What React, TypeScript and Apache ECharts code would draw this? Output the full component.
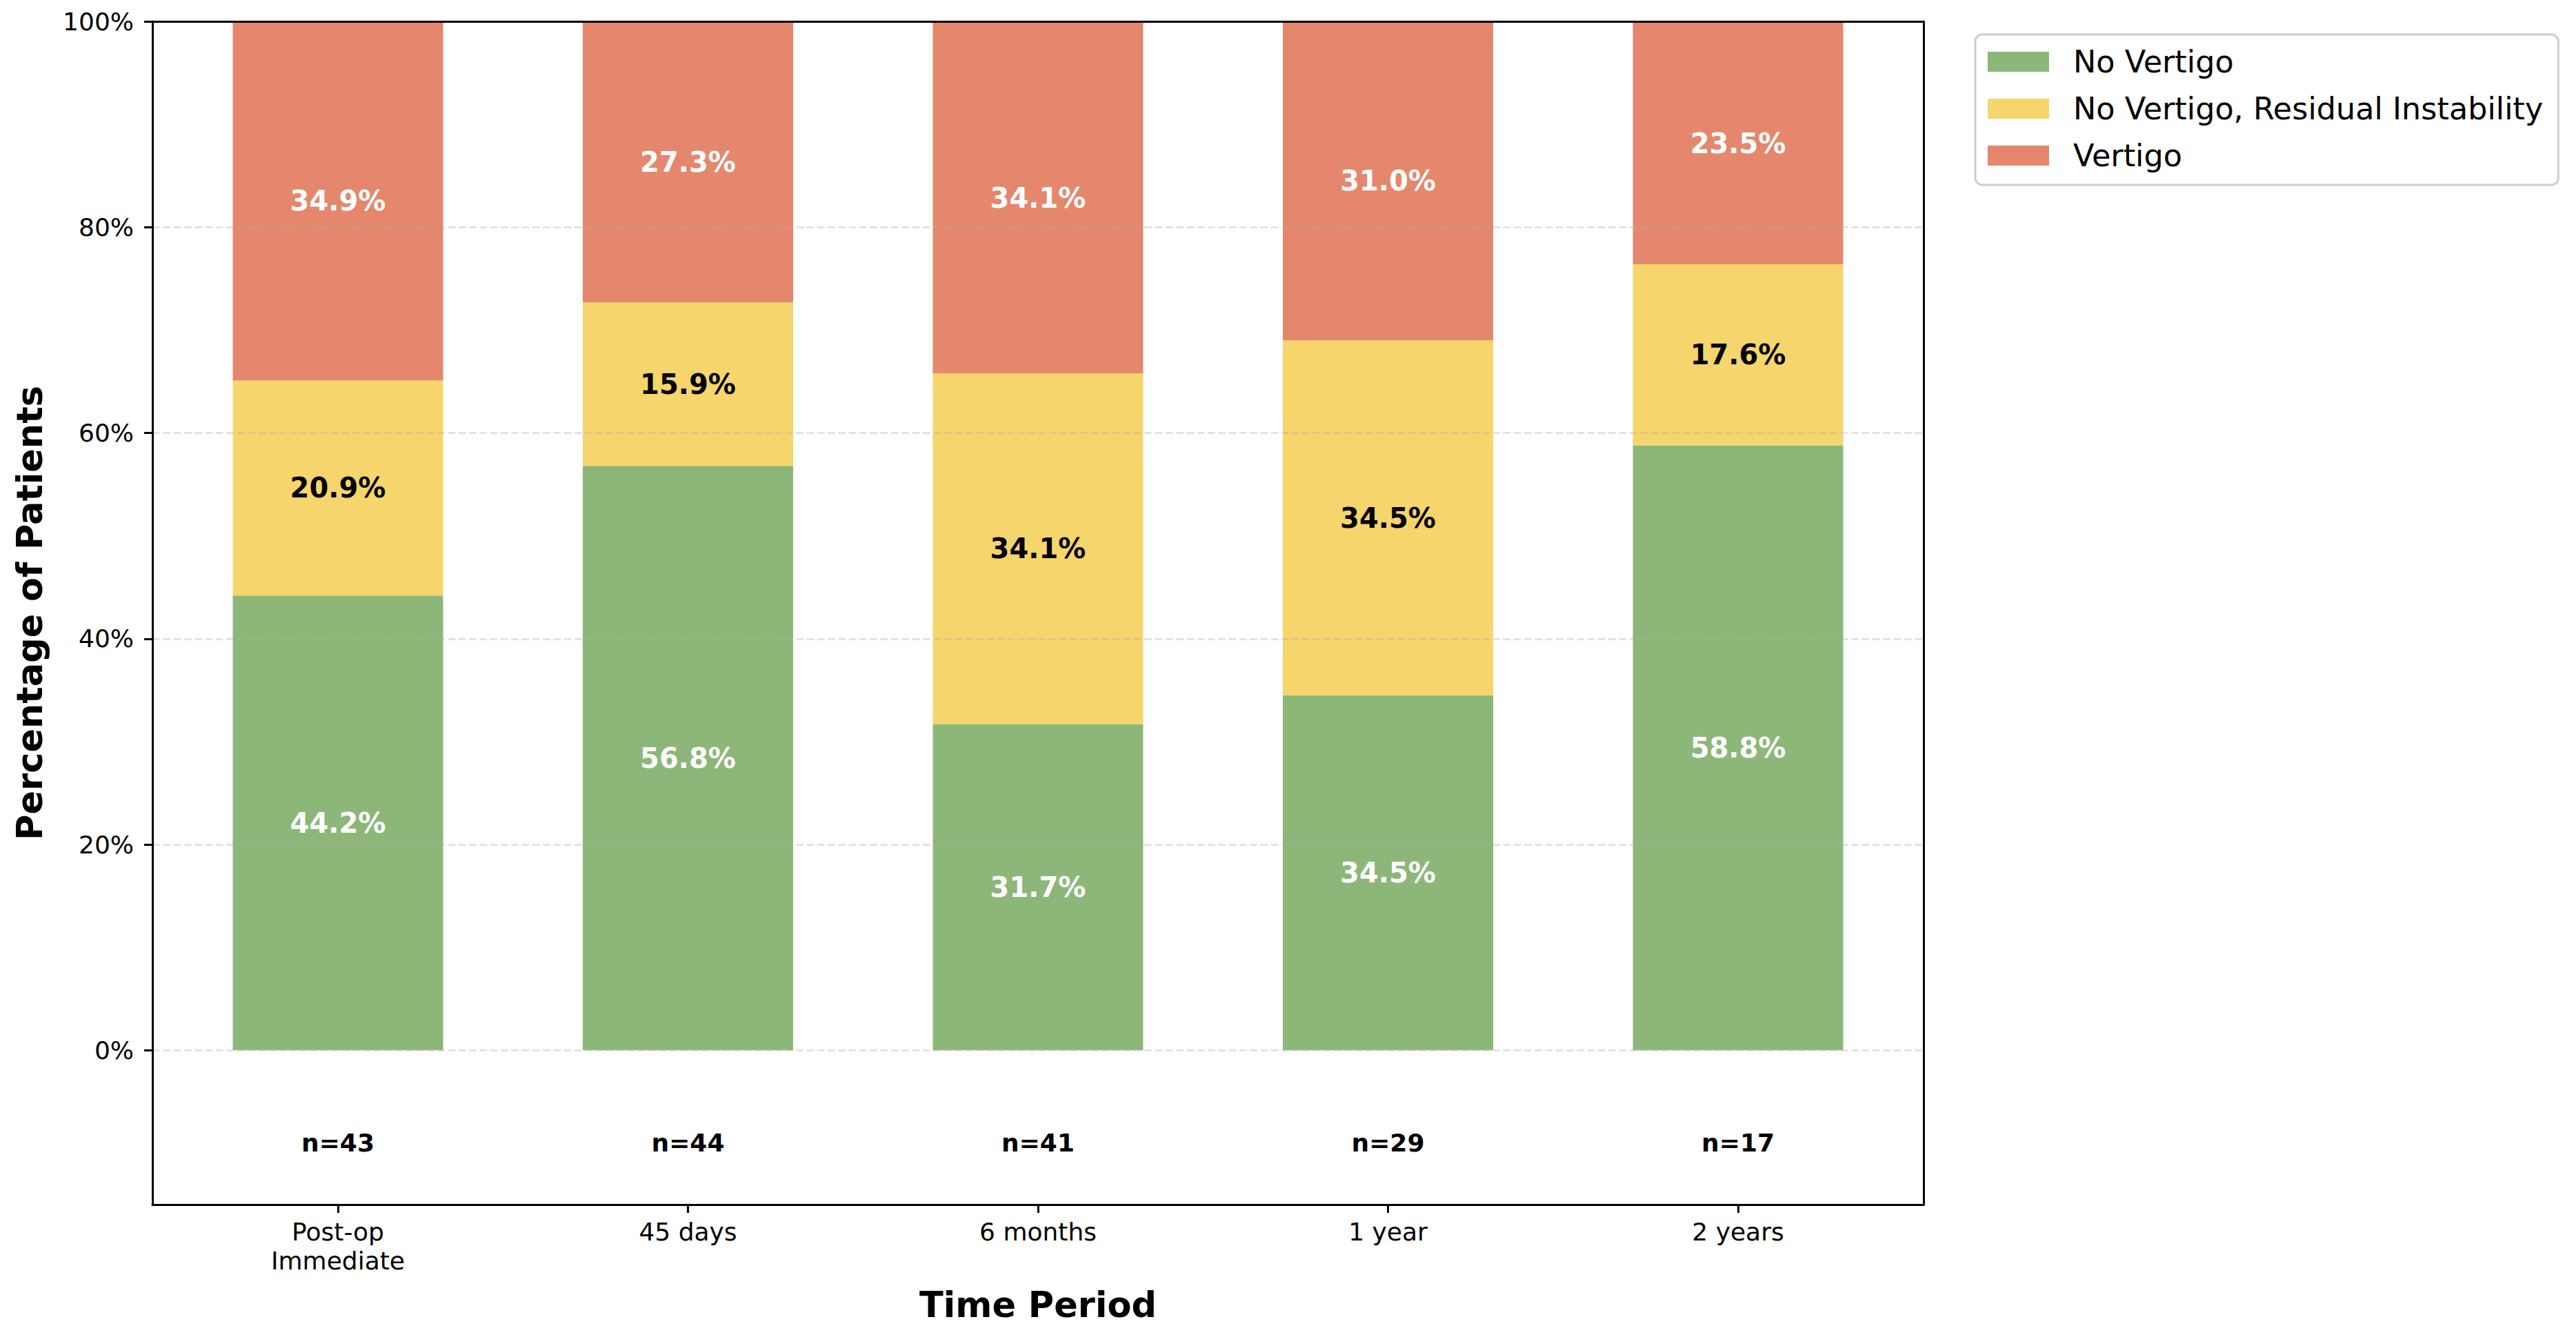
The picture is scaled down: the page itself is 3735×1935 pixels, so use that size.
import React, { useEffect, useRef } from "react";
import * as echarts from "echarts";

const categories = ["Post-op\nImmediate", "45 days", "6 months", "1 year", "2 years"];
const noVertigo = [44.2, 56.8, 31.7, 34.5, 58.8];
const residualInstability = [20.9, 15.9, 34.1, 34.5, 17.6];
const vertigo = [34.9, 27.3, 34.1, 31.0, 23.5];
const sampleSizes = [43, 44, 41, 29, 17];
const yTicks = [0, 20, 40, 60, 80, 100];
const seriesNames = ["No Vertigo", "No Vertigo, Residual Instability", "Vertigo"];
const seriesColors = ["#8cb779", "#f5d56c", "#e4876d"];
const labelColors = ["#ffffff", "#000000", "#ffffff"];
const nLabelValue = -9;

const FONT = "DejaVu Sans";

export default function App() {
  const ref = useRef<HTMLDivElement>(null);

  useEffect(() => {
    document.body.style.margin = "0";
    const chart = echarts.init(ref.current!, null, { renderer: "svg" });

    // outer frame grid
    const gridLeft = 221;
    const gridTop = 31;
    const gridWidth = 2568;
    const gridHeight = 1715;
    // inner grid for categories (matplotlib-like x margins)
    const unit = gridWidth / 5.06;
    const innerLeft = gridLeft + 0.03 * unit;
    const innerWidth = 5 * unit;

    const stacks = [noVertigo, residualInstability, vertigo];

    const barSeries = stacks.map((vals, si) => ({
      name: seriesNames[si],
      type: "bar",
      stack: "total",
      xAxisIndex: 2,
      yAxisIndex: 2,
      barWidth: Math.round(unit * 0.6),
      itemStyle: { color: seriesColors[si] },
      label: {
        show: true,
        position: "inside",
        formatter: (p: any) => Number(p.value).toFixed(1) + "%",
        color: labelColors[si],
        fontFamily: FONT,
        fontWeight: "bold",
        fontSize: 40,
      },
      data: vals,
    }));

    const nSeries = {
      type: "scatter",
      xAxisIndex: 2,
      yAxisIndex: 2,
      symbolSize: 1,
      itemStyle: { color: "#ffffff", opacity: 1 },
      label: {
        show: true,
        position: "inside",
        formatter: (p: any) => "n=" + p.value[2],
        color: "#000000",
        opacity: 1,
        fontFamily: FONT,
        fontWeight: "bold",
        fontSize: 36,
      },
      data: sampleSizes.map((n, i) => [categories[i], nLabelValue, n]),
    };

    const axisLineStyle = { color: "#000", width: 3 };

    chart.setOption({
      animation: false,
      backgroundColor: "#ffffff",
      grid: [
        { left: gridLeft, top: gridTop, width: gridWidth, height: gridHeight },
        { left: innerLeft, top: gridTop, width: innerWidth, height: gridHeight },
      ],
      xAxis: [
        {
          gridIndex: 0,
          type: "value",
          min: 0,
          max: 1,
          position: "bottom",
          z: 3,
          axisLine: { show: true, onZero: false, lineStyle: axisLineStyle },
          axisTick: { show: false },
          axisLabel: { show: false },
          splitLine: { show: false },
        },
        {
          gridIndex: 0,
          type: "value",
          min: 0,
          max: 1,
          position: "top",
          z: 3,
          axisLine: { show: true, onZero: false, lineStyle: axisLineStyle },
          axisTick: { show: false },
          axisLabel: { show: false },
          splitLine: { show: false },
        },
        {
          gridIndex: 1,
          type: "category",
          data: categories,
          position: "bottom",
          z: 3,
          axisLine: { show: false, onZero: false },
          axisTick: { show: true, alignWithLabel: true, length: 12, lineStyle: axisLineStyle },
          axisLabel: {
            interval: 0,
            fontFamily: FONT,
            fontSize: 36,
            lineHeight: 42,
            color: "#000",
            margin: 18,
          },
          splitLine: { show: false },
        },
      ],
      yAxis: [
        {
          gridIndex: 0,
          type: "value",
          min: -15,
          max: 100,
          position: "left",
          z: 3,
          axisLine: { show: true, onZero: false, lineStyle: axisLineStyle },
          axisTick: { show: true, customValues: yTicks, length: 12, lineStyle: axisLineStyle },
          axisLabel: {
            customValues: yTicks,
            formatter: (v: number) => v + "%",
            fontFamily: FONT,
            fontSize: 36,
            color: "#000",
            margin: 27,
          },
          splitLine: {
            show: true,
            lineStyle: { color: "rgba(176,176,176,0.35)", width: 2.9, type: [10.7, 4.6] },
          },
        },
        {
          gridIndex: 0,
          type: "value",
          min: -15,
          max: 100,
          position: "right",
          z: 3,
          axisLine: { show: true, onZero: false, lineStyle: axisLineStyle },
          axisTick: { show: false },
          axisLabel: { show: false },
          splitLine: { show: false },
        },
        {
          gridIndex: 1,
          type: "value",
          min: -15,
          max: 100,
          show: false,
          splitLine: { show: false },
        },
      ],
      legend: {
        orient: "vertical",
        left: 2864,
        top: 50,
        itemWidth: 89,
        itemHeight: 29,
        itemGap: 23,
        padding: [17, 22, 20, 18],
        backgroundColor: "rgba(255,255,255,0.8)",
        borderColor: "#cccccc",
        borderWidth: 2.9,
        borderRadius: 10,
        selectedMode: false,
        icon: "rect",
        textStyle: {
          fontFamily: FONT,
          fontSize: 44.5,
          color: "#000",
          lineHeight: 44,
          padding: [0, 0, 0, 30],
        },
        data: seriesNames,
      },
      graphic: [
        {
          type: "text",
          x: 43,
          y: gridTop + gridHeight / 2,
          rotation: Math.PI / 2,
          style: {
            text: "Percentage of Patients",
            fontFamily: FONT,
            fontWeight: "bold",
            fontSize: 51,
            fill: "#000",
            align: "center",
            verticalAlign: "middle",
          },
        },
        {
          type: "text",
          x: gridLeft + gridWidth / 2,
          y: 1891,
          style: {
            text: "Time Period",
            fontFamily: FONT,
            fontWeight: "bold",
            fontSize: 51,
            fill: "#000",
            align: "center",
            verticalAlign: "middle",
          },
        },
      ],
      series: [...barSeries, nSeries],
    });

    return () => chart.dispose();
  }, []);

  return <div ref={ref} style={{ width: 3735, height: 1935 }} />;
}
